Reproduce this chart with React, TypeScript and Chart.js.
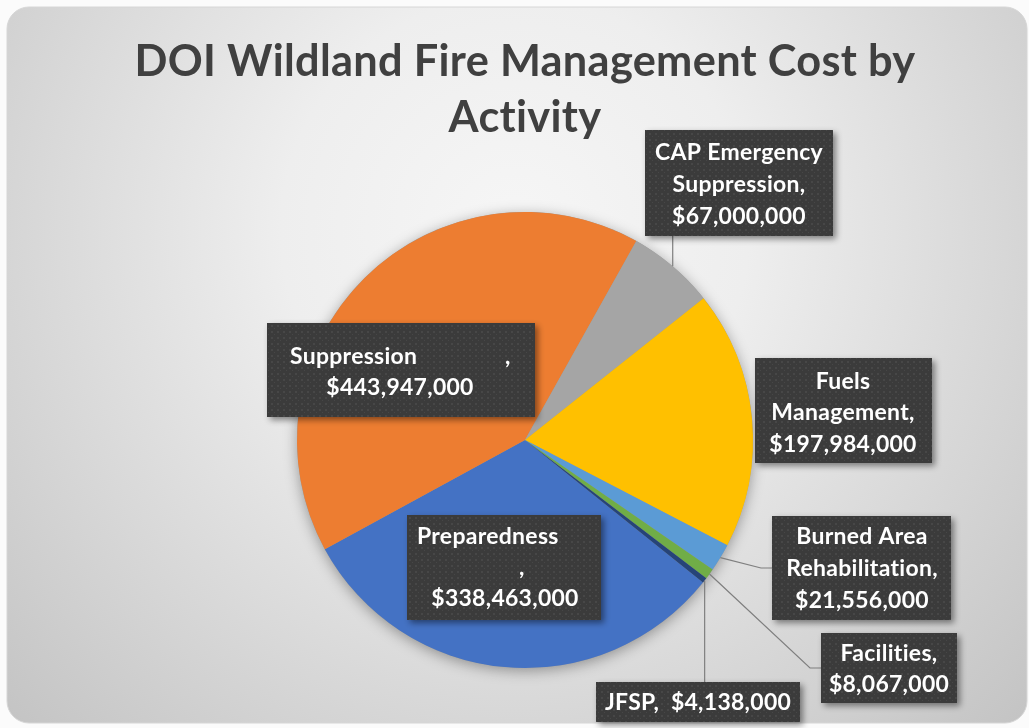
import React, { useEffect, useRef } from "react";
import { Chart, registerables } from "chart.js";

Chart.register(...registerables);

const categories = [
  "Preparedness",
  "Suppression",
  "CAP Emergency Suppression",
  "Fuels Management",
  "Burned Area Rehabilitation",
  "Facilities",
  "JFSP",
];
const values = [338463000, 443947000, 67000000, 197984000, 21556000, 8067000, 4138000];
const colors = ["#4472C4", "#ED7D31", "#A5A5A5", "#FFC000", "#5B9BD5", "#70AD47", "#264478"];
const titleLines = ["DOI Wildland Fire Management Cost by", "Activity"];

type Layout = {
  box: [number, number, number, number];
  cx?: number;
  ys?: number[];
  maxW?: number;
  single?: boolean;
  split?: { nameX: number; nameY: number; commaX: number; commaY: number; valueX: number; valueY: number };
  leader?: "up" | "down" | "elbow";
};

const labelLayouts: Layout[] = [
  { box: [407, 515, 194, 105], split: { nameX: 417, nameY: 537, commaX: 519, commaY: 568, valueX: 505, valueY: 599 } },
  { box: [267, 323, 268, 94], split: { nameX: 290, nameY: 357, commaX: 505, commaY: 357, valueX: 400, valueY: 388 } },
  { box: [645, 130, 188, 106], cx: 739, ys: [153, 185, 217], maxW: 178, leader: "up" },
  { box: [755, 358, 177, 105], cx: 843, ys: [382, 413, 445], maxW: 170 },
  { box: [772, 516, 179, 104], cx: 862, ys: [537, 569, 601], maxW: 172, leader: "elbow" },
  { box: [821, 633, 136, 70], cx: 889, ys: [654, 685], maxW: 128, leader: "elbow" },
  { box: [596, 682, 204, 40], cx: 698, ys: [703], single: true, leader: "down" },
];

const FONT = "Lato, 'Open Sans', sans-serif";
const SPACING = "0.3px";

function fmt(v: number) {
  return "$" + v.toLocaleString("en-US");
}

function fitSize(text: string, target: number) {
  const c = document.createElement("canvas").getContext("2d")! as any;
  c.font = `bold 40px ${FONT}`;
  c.letterSpacing = SPACING;
  const w = c.measureText(text).width;
  return (40 * target) / w;
}

export default function App() {
  const ref = useRef<HTMLCanvasElement | null>(null);

  useEffect(() => {
    const canvas = ref.current!;
    const titleSize = fitSize(titleLines[0], 782);
    const labelSize = fitSize(fmt(values[1]), 146);

    // dot pattern for label boxes
    const pc = document.createElement("canvas");
    pc.width = 6;
    pc.height = 6;
    const px = pc.getContext("2d")!;
    px.fillStyle = "#3b3b3b";
    px.fillRect(0, 0, 6, 6);
    px.fillStyle = "#474747";
    px.fillRect(1, 1, 2, 2);
    px.fillRect(4, 4, 1, 1);

    const bgPlugin = {
      id: "bg",
      beforeDraw(chart: any) {
        const ctx = chart.ctx as CanvasRenderingContext2D;
        ctx.save();
        ctx.fillStyle = "#fbfbfb";
        ctx.fillRect(0, 0, chart.width, chart.height);
        const g = ctx.createRadialGradient(515, 230, 0, 515, 230, 780);
        g.addColorStop(0, "#f6f6f6");
        g.addColorStop(0.3, "#eeeeee");
        g.addColorStop(0.7, "#d2d2d2");
        g.addColorStop(1, "#bdbdbd");
        ctx.beginPath();
        (ctx as any).roundRect(7, 7, 1020, 716, 22);
        ctx.fillStyle = g;
        ctx.fill();
        ctx.strokeStyle = "#d6d6d6";
        ctx.lineWidth = 1;
        ctx.stroke();
        ctx.restore();
        (ctx as any).letterSpacing = SPACING;
      },
      beforeDatasetsDraw(chart: any) {
        const arc = chart.getDatasetMeta(0).data[0];
        if (!arc) return;
        const ctx = chart.ctx as CanvasRenderingContext2D;
        ctx.save();
        ctx.shadowColor = "rgba(0,0,0,0.35)";
        ctx.shadowBlur = 14;
        ctx.shadowOffsetY = 3;
        ctx.beginPath();
        ctx.arc(arc.x, arc.y, arc.outerRadius, 0, Math.PI * 2);
        ctx.fillStyle = "#999";
        ctx.fill();
        ctx.restore();
      },
    };

    const labelPlugin = {
      id: "boxLabels",
      afterDatasetsDraw(chart: any) {
        const ctx = chart.ctx as CanvasRenderingContext2D;
        const meta = chart.getDatasetMeta(0);
        const labels = chart.data.labels as string[];
        const data = chart.data.datasets[0].data as number[];
        ctx.save();
        ctx.font = `bold ${labelSize}px ${FONT}`;
        (ctx as any).letterSpacing = SPACING;
        labels.forEach((name, i) => {
          const L = labelLayouts[i];
          const arc = meta.data[i];
          const [bx, by, bw, bh] = L.box;
          // leader line
          if (L.leader) {
            const mid = (arc.startAngle + arc.endAngle) / 2;
            const sx = arc.x + Math.cos(mid) * arc.outerRadius;
            const sy = arc.y + Math.sin(mid) * arc.outerRadius;
            ctx.beginPath();
            ctx.strokeStyle = "#7f7f7f";
            ctx.lineWidth = 1.2;
            ctx.moveTo(sx, sy);
            if (L.leader === "up") ctx.lineTo(sx, by + bh);
            else if (L.leader === "down") ctx.lineTo(sx, by);
            else {
              ctx.lineTo(bx - 11, by + bh / 2);
              ctx.lineTo(bx, by + bh / 2);
            }
            ctx.stroke();
          }
          // box
          ctx.save();
          ctx.shadowColor = "rgba(0,0,0,0.45)";
          ctx.shadowBlur = 6;
          ctx.shadowOffsetX = 3;
          ctx.shadowOffsetY = 3;
          ctx.fillStyle = ctx.createPattern(pc, "repeat")!;
          ctx.fillRect(bx, by, bw, bh);
          ctx.restore();
          // text
          ctx.fillStyle = "#ffffff";
          ctx.textBaseline = "middle";
          const valueStr = fmt(data[i]);
          if (L.split) {
            const s = L.split;
            ctx.textAlign = "left";
            ctx.fillText(name, s.nameX, s.nameY);
            ctx.fillText(",", s.commaX, s.commaY);
            ctx.textAlign = "center";
            ctx.fillText(valueStr, s.valueX, s.valueY);
            return;
          }
          let lines: string[];
          if (L.single) {
            lines = [name + ",  " + valueStr];
          } else {
            const words = name.split(" ");
            words[words.length - 1] += ",";
            words.push(valueStr);
            lines = [];
            let cur = "";
            for (const w of words) {
              const t = cur ? cur + " " + w : w;
              if (cur && ctx.measureText(t).width > (L.maxW as number)) {
                lines.push(cur);
                cur = w;
              } else cur = t;
            }
            if (cur) lines.push(cur);
          }
          ctx.textAlign = "center";
          lines.forEach((ln, k) => {
            ctx.fillText(ln, L.cx as number, (L.ys as number[])[k]);
          });
        });
        ctx.restore();
      },
    };

    const lineH = 56;
    const chart = new Chart(canvas, {
      type: "pie",
      data: {
        labels: categories,
        datasets: [
          {
            data: values,
            backgroundColor: colors,
            borderWidth: 0,
          },
        ],
      },
      options: {
        animation: false,
        responsive: false,
        devicePixelRatio: 1,
        rotation: 128.7,
        layout: { padding: { top: 24, left: 21, right: 0, bottom: 60 } },
        plugins: {
          legend: { display: false },
          tooltip: { enabled: false },
          title: {
            display: true,
            text: titleLines,
            color: "#404040",
            font: { family: FONT, weight: "bold", size: titleSize, lineHeight: lineH / titleSize },
            padding: { top: 10, bottom: 212 - (34 + 2 * lineH) },
          },
        },
      },
      plugins: [bgPlugin, labelPlugin],
    } as any);
    return () => chart.destroy();
  }, []);

  return (
    <div style={{ position: "absolute", left: 0, top: 0, width: 1029, height: 728 }}>
      <canvas ref={ref} width={1029} height={728} />
    </div>
  );
}
